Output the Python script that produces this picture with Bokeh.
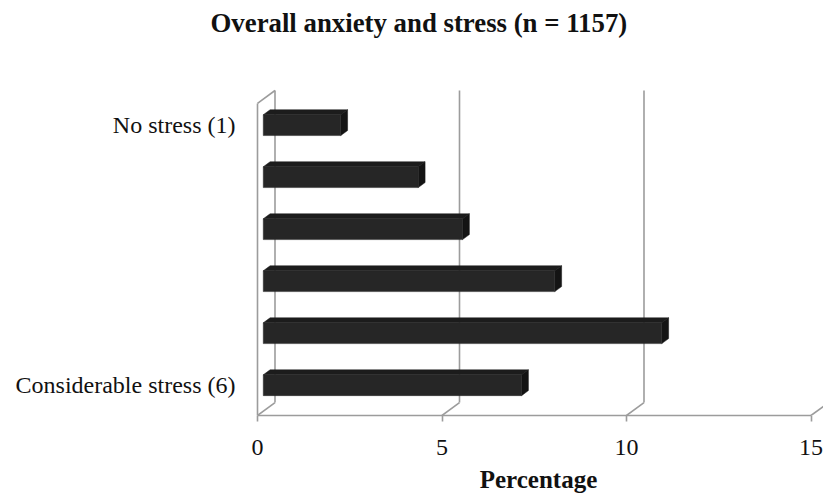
from bokeh.plotting import figure
from bokeh.models import Range1d, FixedTicker, Title
from bokeh.embed import file_html
from bokeh.resources import INLINE

# ---------------- data ----------------
categories = ["1", "2", "3", "4", "5", "6"]
category_labels = ["No stress (1)", "", "", "", "", "Considerable stress (6)"]
percentages = [2.1, 4.2, 5.4, 7.9, 10.8, 7.0]
x_ticks = [0, 5, 10, 15]
title_text = "Overall anxiety and stress (n = 1157)"
x_title = "Percentage"

# ---------------- geometry of the 3-D look ----------------
PX_PER_X = 36.9          # pixels per percentage unit
PX_PER_Y = 52.33         # pixels per category slot
DEPTH_X = 17.5 / PX_PER_X
DEPTH_Y = 13.0 / PX_PER_Y
F_FRONT = 0.33           # bar front face depth fraction
F_BACK = 0.72            # bar back face depth fraction
BAR_H = 0.40
n = len(categories)

W, H = 823, 495
ML, MT = 253, 88
FLOOR_FY = 417           # px of the front floor line (= frame bottom)
MB = H - FLOOR_FY
ZERO_FX = 257            # px of x = 0

Y0 = 0.5 - F_FRONT * DEPTH_Y          # floor (front) in data units
x_start = -(ZERO_FX - ML) / PX_PER_X
x_end = x_start + (W - ML) / PX_PER_X
y_start = Y0
y_end = Y0 + (FLOOR_FY - MT) / PX_PER_Y

p = figure(width=W, height=H, output_backend="svg", toolbar_location=None,
           x_range=Range1d(x_start, x_end), y_range=Range1d(y_start, y_end),
           min_border_left=ML, min_border_top=MT, min_border_bottom=MB,
           min_border_right=0, title=None)
p.outline_line_color = None
p.grid.visible = False
p.background_fill_color = "white"
p.border_fill_color = "white"

GRAY = "#9c9c9c"
LW = 1.6
top_wall = Y0 + n
FONT = "Liberation Serif"
TXT = "#111111"

# walls / grid (derived from ticks and category count)
xs0, ys0, xs1, ys1 = [], [], [], []
xs0.append(0); ys0.append(Y0); xs1.append(0); ys1.append(top_wall)
xs0.append(0); ys0.append(top_wall); xs1.append(DEPTH_X); ys1.append(top_wall + DEPTH_Y)
for t in x_ticks:
    xs0.append(t + DEPTH_X); ys0.append(Y0 + DEPTH_Y)
    xs1.append(t + DEPTH_X); ys1.append(top_wall + DEPTH_Y)
    xs0.append(t); ys0.append(Y0); xs1.append(t + DEPTH_X); ys1.append(Y0 + DEPTH_Y)
p.segment(xs0, ys0, xs1, ys1, line_color=GRAY, line_width=LW)

# bars
ddx = (F_BACK - F_FRONT) * DEPTH_X
ddy = (F_BACK - F_FRONT) * DEPTH_Y
fx0 = F_FRONT * DEPTH_X
lefts, rights, bottoms, tops = [], [], [], []
top_xs, top_ys, side_xs, side_ys = [], [], [], []
for k, v in enumerate(percentages):
    yc = n - k                      # category 1 on top
    yb, yt = yc - BAR_H / 2, yc + BAR_H / 2
    x1 = v + fx0
    lefts.append(fx0); rights.append(x1); bottoms.append(yb); tops.append(yt)
    top_xs.append([fx0, x1, x1 + ddx, fx0 + ddx])
    top_ys.append([yt, yt, yt + ddy, yt + ddy])
    side_xs.append([x1, x1, x1 + ddx, x1 + ddx])
    side_ys.append([yb, yt, yt + ddy, yb + ddy])

p.patches(top_xs, top_ys, fill_color="#1c1c1c", line_color="#1c1c1c", line_width=0.5)
p.patches(side_xs, side_ys, fill_color="#141414", line_color="#141414", line_width=0.5)
p.quad(left=lefts, right=rights, bottom=bottoms, top=tops,
       fill_color="#262626", line_color="#262626", line_width=0.5)

# y axis (category labels)
p.yaxis.ticker = FixedTicker(ticks=[n - k for k in range(n)])
p.yaxis.major_label_overrides = {n - k: category_labels[k] for k in range(n)}
p.yaxis.axis_line_color = None
p.yaxis.major_tick_line_color = None
p.yaxis.minor_tick_line_color = None
p.yaxis.major_tick_out = 0
p.yaxis.major_tick_in = 0
p.yaxis.major_label_standoff = 18
p.yaxis.major_label_text_font = FONT
p.yaxis.major_label_text_font_size = "24px"
p.yaxis.major_label_text_color = TXT

# x axis (front floor line + ticks)
p.xaxis.ticker = FixedTicker(ticks=x_ticks)
p.xaxis.bounds = (x_ticks[0], x_ticks[-1])
p.xaxis.axis_line_color = GRAY
p.xaxis.axis_line_width = LW
p.xaxis.major_tick_line_color = GRAY
p.xaxis.major_tick_line_width = LW
p.xaxis.minor_tick_line_color = None
p.xaxis.major_tick_out = 6
p.xaxis.major_tick_in = 0
p.xaxis.major_label_standoff = 18
p.xaxis.major_label_text_font = FONT
p.xaxis.major_label_text_font_size = "24px"
p.xaxis.major_label_text_color = TXT
p.xaxis.axis_label = x_title
p.xaxis.axis_label_text_font = FONT
p.xaxis.axis_label_text_font_style = "bold"
p.xaxis.axis_label_text_font_size = "25px"
p.xaxis.axis_label_text_color = TXT
p.xaxis.axis_label_standoff = 8

# spacer between frame and title, then the title itself
spacer = Title(text=" ", text_font_size="10px", standoff=38)
p.add_layout(spacer, "above")
main_title = Title(text=title_text, align="left", offset=210 - ML, standoff=0,
                   text_font=FONT, text_font_style="bold",
                   text_font_size="26.8px", text_color=TXT)
p.add_layout(main_title, "above")

open("out.html", "w").write(file_html(p, INLINE))
